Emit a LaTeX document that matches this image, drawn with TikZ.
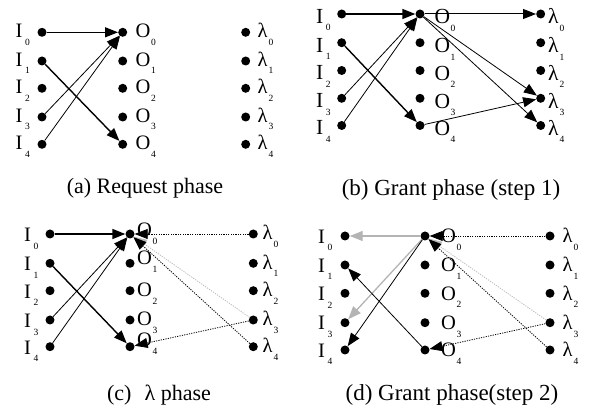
\documentclass[tikz,border=0pt]{standalone}
\usepackage{fontspec}
\setmainfont{Liberation Serif}
\usetikzlibrary{arrows.meta}
\definecolor{lgray}{RGB}{185,185,185}
\definecolor{dgray}{RGB}{180,180,180}
\newcommand\sbs[1]{\raisebox{-7.5pt}{\fontsize{9.5}{9.5}\selectfont #1}}
\tikzset{
  dot/.style={circle, fill=black, inner sep=0pt, minimum size=9pt},
  lbl/.style={anchor=base west, inner sep=0pt, font=\fontsize{20.5}{20.5}\selectfont},
  lblb/.style={anchor=base west, inner sep=0pt, font=\fontsize{21.5}{21.5}\selectfont},
  captxt/.style={anchor=base, inner sep=0pt, font=\fontsize{22}{22}\selectfont},
  captxtb/.style={anchor=base, inner sep=0pt, font=\fontsize{23}{23}\selectfont},
  arr/.style={-{Triangle[length=13pt,width=10pt]}, line width=0.8pt},
  thk/.style={line width=1.4pt},
  darr/.style={-{Triangle[length=13pt,width=10pt]}, line width=0.8pt, dash pattern=on 1.2pt off 1.2pt},
  gdarr/.style={-{Triangle[length=13pt,width=10pt,fill=lgray]}, draw=lgray, line width=0.8pt, dash pattern=on 1.2pt off 1.2pt},
  garr/.style={-{Triangle[length=13pt,width=10pt,fill=dgray]}, draw=dgray, line width=1.3pt},
}
\begin{document}
\begin{tikzpicture}[x=1pt,y=-1pt]
\useasboundingbox (0,0) rectangle (590,414);

% ---------- panel (a)
\foreach \i/\y in {0/32.3,1/61,2/88.3,3/117,4/144.3}{
  \node[dot] (aI\i) at (42,\y) {};
  \node[dot] (aO\i) at (122.7,\y) {};
  \node[dot] (aL\i) at (245.7,\y) {};
  \node[lbl] (aIl\i) at (15.5,\y+5.5) {I\hspace{2.5pt}\sbs{\i}};
  \node[lbl] (aOl\i) at (135.5,\y+5.5) {O\hspace{0.5pt}\sbs{\i}};
  \node[lbl] (aLl\i) at (257.5,\y+5.5) {λ\hspace{1pt}\sbs{\i}};
}
\draw[arr,thk] (aI0) -- (aO0);
\draw[arr] (aI3) -- (aO0);
\draw[arr] (aI4) -- (aO0);
\draw[arr,thk] (aI1) -- (aO4);
\node[captxt] (capa) at (145,194) {(a) Request phase};

% ---------- panel (b)
\foreach \i/\y in {0/14,1/42.7,2/70.5,3/98.3,4/125.5}{
  \node[dot] (bI\i) at (341.7,\y) {};
  \node[dot] (bO\i) at (420,\y) {};
  \node[dot] (bL\i) at (540.7,\y) {};
  \node[lblb] (bIl\i) at (316,\y+9.5) {I\hspace{2.5pt}\sbs{\i}};
  \node[lblb] (bOl\i) at (434.5,\y+10) {O\hspace{0.5pt}\sbs{\i}};
  \node[lblb] (bLl\i) at (548,\y+10) {λ\hspace{1pt}\sbs{\i}};
}
\draw[arr,thk] (bI0) -- (bO0);
\draw[arr] (bI3) -- (bO0);
\draw[arr] (bI4) -- (bO0);
\draw[arr,thk] (bI1) -- (bO4);
\draw[arr,line width=1pt] (bO0) -- (bL0);
\draw[arr] (bO0) -- (bL3);
\draw[arr] (bO0) -- (bL4);
\draw[arr] (bO4) -- (bL3);
\node[captxtb] (capb) at (451,196) {(b) Grant phase (step 1)};

% ---------- panel (c)
\foreach \i/\y/\o in {0/234/2.7,1/263.3/1.7,2/290.7/6,3/320/6,4/346.7/0}{
  \node[dot] (cI\i) at (50,\y) {};
  \node[dot] (cO\i) at (130,\y) {};
  \node[dot] (cL\i) at (253.3,\y) {};
  \node[lbl] (cIl\i) at (24,\y+7.7) {I\hspace{2.5pt}\sbs{\i}};
  \node[lbl] (cOl\i) at (137,\y+\o) {O\hspace{0.5pt}\sbs{\i}};
  \node[lbl] (cLl\i) at (262.5,\y+6) {λ\hspace{1pt}\sbs{\i}};
}
\draw[arr,thk] (cI0) -- (cO0);
\draw[arr] (cI3) -- (cO0);
\draw[arr] (cI4) -- (cO0);
\draw[arr,thk] (cI1) -- (cO4);
\draw[gdarr] (cL3) -- (cO0);
\draw[darr] (cL0) -- (cO0);
\draw[darr] (cL4) -- (cO0);
\draw[darr] (cL3) -- (cO4);
\node[captxt] (capc) at (159,401) {(c)\hspace{0.6em}λ phase};

% ---------- panel (d)
\foreach \i/\y in {0/236,1/265,2/293.3,3/322.7,4/350}{
  \node[dot] (dI\i) at (345,\y) {};
  \node[dot] (dO\i) at (425,\y) {};
  \node[dot] (dL\i) at (550,\y) {};
  \node[lbl] (dIl\i) at (318,\y+7.3) {I\hspace{2.5pt}\sbs{\i}};
  \node[lbl] (dOl\i) at (441,\y+7) {O\hspace{0.5pt}\sbs{\i}};
  \node[lbl] (dLl\i) at (562.5,\y+7) {λ\hspace{1pt}\sbs{\i}};
}
\draw[garr] (dO0) -- (dI0);
\draw[garr] (dO0) -- (dI3);
\draw[arr] (dO0) -- (dI4);
\draw[arr] (dO4) -- (dI1);
\draw[gdarr] (dL3) -- (dO0);
\draw[darr] (dL0) -- (dO0);
\draw[darr] (dL4) -- (dO0);
\draw[darr] (dL3) -- (dO4);
\node[captxtb] (capd) at (452,401) {(d) Grant phase(step 2)};
\end{tikzpicture}
\end{document}
